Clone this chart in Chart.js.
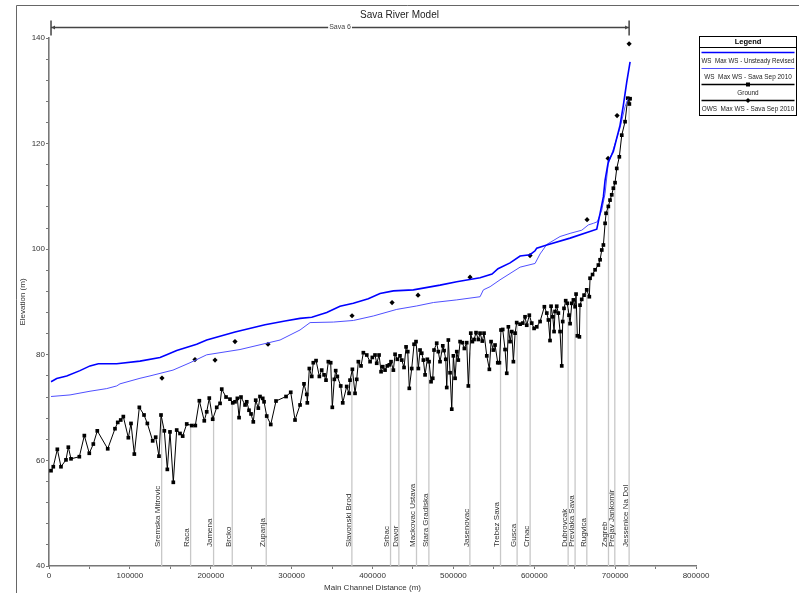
<!DOCTYPE html>
<html>
<head>
<meta charset="utf-8">
<title>Sava River Model</title>
<script src="https://cdn.jsdelivr.net/npm/chart.js@4.4.1/dist/chart.umd.min.js"></script>
<style>
  html, body { margin: 0; padding: 0; background: #fff; }
  #wrap { width: 799px; height: 593px; }
</style>
</head>
<body>
<div id="wrap"><canvas id="profile" width="799" height="593"></canvas></div>
<script>
// main channel distance (m) / elevation (m)
const wsRevDist = [2500, 9500, 21900, 38300, 50700, 61000, 83700, 112500, 137300, 145500,
  157900, 182600, 195000, 230000, 267100, 291800, 310400, 324900, 343400, 359800,
  376300, 394800, 409300, 425800, 450500, 483500, 504200, 518500, 533000, 547800,
  555200, 570100, 582500, 594800, 601000, 603100, 615500, 644300, 677300, 681400,
  685500, 687600, 691600, 697800, 706100, 710200, 714400, 718500];
const wsRevElev = [74.9, 75.5, 76.0, 77.0, 77.9, 78.3, 78.3, 78.8, 79.5, 80.0,
  80.8, 82.0, 82.8, 84.3, 85.7, 86.4, 86.9, 87.1, 88.0, 89.2,
  89.75, 90.6, 91.6, 92.1, 92.3, 93.2, 93.85, 94.2, 94.6, 95.3,
  96.3, 97.4, 98.7, 98.96, 99.7, 100.2, 100.8, 102.1, 103.8, 106.8,
  109.95, 113.1, 116.6, 118.5, 123.5, 127.3, 131.7, 135.5];

const wsSepDist = [2500, 26000, 50700, 71400, 83700, 87800, 112500, 124900, 153300, 174400,
  195000, 236200, 285700, 310400, 322800, 351600, 376300, 401000, 430000, 454700,
  475300, 504200, 533000, 537100, 545400, 557700, 582500, 601000, 607200, 615500,
  631900, 644300, 658800, 666900, 673100, 678000, 683500, 687600, 691300, 697500,
  706100, 712300, 716000];
const wsSepElev = [72.1, 72.4, 73.1, 73.6, 74.1, 74.5, 75.55, 76.0, 77.1, 78.5,
  80.0, 81.0, 82.8, 84.7, 86.1, 86.2, 86.5, 87.35, 88.6, 89.25,
  89.9, 90.4, 91.0, 92.3, 92.9, 94.2, 96.6, 97.3, 99.1, 100.9,
  102.4, 103.0, 103.6, 104.6, 104.9, 105.2, 107.4, 110.6, 116.0, 118.8,
  123.0, 127.0, 128.5];

const groundDist = [2500, 5300, 10300, 14800, 21000, 23900, 27200, 37500, 43700, 49800,
  54800, 59700, 72600, 81600, 85000, 88700, 91900, 98100, 101400, 105500,
  111700, 117500, 121600, 128200, 131900, 136000, 138500, 142600, 146300, 149600,
  153700, 157900, 162000, 165300, 170300, 176500, 180900, 185900, 192000, 195000,
  198200, 202400, 207400, 211500, 213600, 218900, 223800, 227200, 230000, 232900,
  235000, 237400, 242400, 244500, 247300, 249800, 252600, 255600, 258800, 260900,
  264300, 265900, 269200, 274200, 280700, 293100, 298900, 304200, 310400, 315300,
  318700, 319400, 321900, 324900, 326800, 330200, 334300, 337200, 340100, 342500,
  345400, 348300, 350300, 352800, 354500, 356500, 360700, 363200, 368100, 371000,
  372200, 375100, 378400, 380500, 382500, 385800, 388700, 392900, 397000, 399800,
  403100, 405200, 408100, 410600, 412700, 415500, 418300, 420800, 422900, 425800,
  427900, 430700, 434000, 436200, 439000, 441500, 443600, 445500, 448500, 451400,
  453800, 456700, 458800, 460900, 462900, 465000, 467800, 469900, 472400, 474500,
  476100, 479400, 481400, 483500, 486900, 488500, 490600, 491800, 493800, 495900,
  498000, 500000, 502100, 504200, 506100, 508300, 511100, 513600, 516500, 518500,
  521500, 523500, 525600, 528000, 530900, 533000, 535800, 537900, 541300, 544500,
  546600, 549400, 551500, 554900, 556900, 558900, 561000, 563900, 566000, 568000,
  570100, 572200, 574200, 576300, 578300, 582500, 585800, 588600, 590700, 593900,
  596900, 599800, 603100, 607200, 612500, 615500, 617500, 619500, 620800, 622900,
  624500, 625700, 627800, 629800, 631900, 634000, 635200, 636800, 638900, 640900,
  643000, 644300, 646400, 648400, 650500, 651700, 653300, 655800, 656600, 658700,
  661600, 664900, 668100, 669000, 672100, 675200, 679300, 681400, 683500, 685500,
  687600, 688800, 691600, 693700, 695800, 697800, 699900, 702000, 705200, 708200,
  712300, 715600, 717600, 718500];
const groundElev = [58.05, 58.8, 62.1, 58.8, 60.1, 62.5, 60.3, 60.7, 64.7, 61.35,
  63.1, 65.6, 62.2, 66.0, 67.2, 67.65, 68.3, 64.3, 67.0, 61.2,
  70.05, 68.6, 67.0, 63.7, 64.4, 60.8, 68.6, 65.6, 58.3, 65.4,
  55.85, 65.75, 65.1, 64.6, 66.9, 66.6, 66.6, 71.3, 67.5, 69.2,
  71.8, 67.8, 70.05, 70.8, 73.5, 72.0, 71.6, 70.9, 71.1, 71.75,
  68.1, 72.0, 70.5, 71.1, 69.5, 68.8, 67.3, 71.4, 69.9, 72.1,
  71.75, 71.1, 68.4, 66.8, 71.25, 72.1, 72.9, 67.65, 70.5, 74.5,
  72.5, 70.9, 77.4, 75.9, 78.5, 78.9, 75.9, 77.1, 76.2, 75.2,
  78.7, 78.5, 70.05, 75.35, 77.0, 75.9, 74.1, 70.9, 74.0, 72.7,
  75.2, 77.25, 72.7, 75.35, 78.7, 77.9, 80.4, 79.96, 78.7, 79.5,
  79.96, 78.4, 79.96, 76.8, 77.75, 77.1, 77.9, 78.1, 78.7, 77.1,
  80.1, 79.15, 79.8, 79.0, 77.6, 81.5, 80.6, 73.65, 77.4, 82.0,
  82.5, 77.4, 80.9, 80.3, 79.0, 76.2, 79.15, 78.7, 74.9, 75.55,
  80.9, 82.2, 80.6, 78.7, 81.7, 80.8, 79.15, 73.8, 82.8, 76.6,
  69.7, 79.8, 75.55, 80.6, 79.0, 82.5, 82.3, 81.2, 82.3, 74.1,
  84.1, 82.5, 82.9, 84.2, 82.9, 84.1, 82.6, 84.1, 79.8, 77.25,
  82.5, 80.9, 81.85, 78.5, 78.5, 84.7, 84.8, 81.0, 76.5, 85.3,
  82.5, 84.4, 78.7, 84.1, 86.1, 85.8, 86.0, 87.2, 85.6, 87.5,
  86.0, 85.0, 85.3, 86.3, 89.1, 87.9, 86.6, 82.7, 89.2, 87.2,
  84.4, 88.2, 89.2, 87.9, 84.4, 77.9, 86.3, 88.8, 90.25, 89.75,
  87.5, 85.9, 89.75, 90.4, 89.1, 91.5, 83.6, 83.4, 89.4, 90.5,
  91.3, 92.3, 91.0, 94.5, 95.2, 96.1, 97.0, 98.0, 99.85, 100.8,
  104.9, 106.8, 108.1, 109.3, 110.3, 111.55, 112.6, 115.3, 117.5, 121.6,
  124.15, 128.6, 127.5, 128.5];

const owsDist = [139700, 180500, 205300, 230000, 270800, 374700, 424200, 456300, 520600, 594800,
  665300, 691300, 702400, 717300];
const owsElev = [75.6, 79.1, 79.0, 82.5, 82.0, 87.4, 89.9, 91.3, 94.7, 98.8,
  105.6, 117.2, 125.3, 138.9];

const stationNames = ['Sremska Mitrovic', 'Raca', 'Jamena', 'Brcko', 'Zupanja', 'Slavonski Brod',
  'Srbac', 'Davor', 'Mackovac Ustava', 'Stara Gradiska', 'Jasenovac', 'Trebez Sava', 'Gusca',
  'Crnac', 'Dubrovcak', 'Prevlaka Sava', 'Rugvica', 'Zagreb', 'Prejav Jankomir', 'Jessenice Na Dol'];
const stationDist = [139300, 175100, 203500, 226600, 268600, 374500, 422300, 432600, 454400, 469700,
  520400, 558300, 578800, 594900, 641900, 650500, 665000, 691800, 699600, 717300];

const reachName = 'Sava 6';
const yTicks = [40, 60, 80, 100, 120, 140];
const xTicks = [0, 100000, 200000, 300000, 400000, 500000, 600000, 700000, 800000];

const FONT = "'Liberation Sans Narrow', 'Liberation Sans', Arial, sans-serif";
Chart.defaults.font.family = FONT;
Chart.defaults.color = '#333';

function pts(xs, ys) {
  return xs.map((x, i) => ({ x: x, y: ys[i] }));
}

// ground elevation at a station, interpolated between cross sections
function groundAt(d) {
  for (let i = 1; i < groundDist.length; i++) {
    if (d <= groundDist[i]) {
      const t = (d - groundDist[i - 1]) / (groundDist[i] - groundDist[i - 1]);
      return groundElev[i - 1] + t * (groundElev[i] - groundElev[i - 1]);
    }
  }
  return groundElev[groundElev.length - 1];
}

const profilePlugin = {
  id: 'profile',
  beforeDraw(chart) {
    const ctx = chart.ctx;
    ctx.save();
    ctx.fillStyle = '#fff';
    ctx.fillRect(0, 0, chart.width, chart.height);
    ctx.strokeStyle = '#666';
    ctx.lineWidth = 1;
    ctx.beginPath();
    ctx.moveTo(16.5, chart.height);
    ctx.lineTo(16.5, 5.5);
    ctx.lineTo(chart.width, 5.5);
    ctx.stroke();
    ctx.restore();
  },
  beforeDatasetsDraw(chart) {
    const ctx = chart.ctx;
    const xs = chart.scales.x, ys = chart.scales.y;
    const base = ys.getPixelForValue(ys.min);
    ctx.save();
    ctx.strokeStyle = '#c8c8c8';
    ctx.lineWidth = 1.3;
    stationNames.forEach((name, i) => {
      const px = xs.getPixelForValue(stationDist[i]);
      const top = ys.getPixelForValue(groundAt(stationDist[i]));
      ctx.beginPath();
      ctx.moveTo(px, base);
      ctx.lineTo(px, top);
      ctx.stroke();
    });
    ctx.fillStyle = '#333';
    ctx.font = '8px ' + FONT;
    ctx.textAlign = 'left';
    ctx.textBaseline = 'bottom';
    stationNames.forEach((name, i) => {
      const px = xs.getPixelForValue(stationDist[i]);
      ctx.save();
      ctx.translate(px + 0.5, base - 19);
      ctx.rotate(-Math.PI / 2);
      ctx.fillText(name, 0, 0);
      ctx.restore();
    });
    ctx.restore();
  },
  afterDraw(chart) {
    const ctx = chart.ctx;
    const xs = chart.scales.x;
    ctx.save();

    // reach bar
    const x0 = xs.getPixelForValue(groundDist[0]);
    const x1 = xs.getPixelForValue(stationDist[stationDist.length - 1]);
    const yb = 27.5;
    ctx.strokeStyle = '#444';
    ctx.fillStyle = '#444';
    ctx.lineWidth = 1.5;
    ctx.beginPath();
    ctx.moveTo(x0, yb); ctx.lineTo(x1, yb);
    ctx.moveTo(x0, yb - 7); ctx.lineTo(x0, yb + 8);
    ctx.moveTo(x1, yb - 7); ctx.lineTo(x1, yb + 8);
    ctx.stroke();
    ctx.beginPath();
    ctx.moveTo(x0 + 0.5, yb); ctx.lineTo(x0 + 4, yb - 2); ctx.lineTo(x0 + 4, yb + 2); ctx.closePath();
    ctx.moveTo(x1 - 0.5, yb); ctx.lineTo(x1 - 4, yb - 2); ctx.lineTo(x1 - 4, yb + 2); ctx.closePath();
    ctx.fill();
    ctx.font = '7px ' + FONT;
    const mid = (x0 + x1) / 2;
    const tw = ctx.measureText(reachName).width;
    ctx.fillStyle = '#fff';
    ctx.fillRect(mid - tw / 2 - 1, yb - 4, tw + 2, 8);
    ctx.fillStyle = '#444';
    ctx.textAlign = 'center';
    ctx.textBaseline = 'middle';
    ctx.fillText(reachName, mid, yb);

    // legend box
    const lx = 699.5, ly = 36.5, lw = 97, lh = 79;
    ctx.fillStyle = '#fff';
    ctx.fillRect(lx, ly, lw, lh);
    ctx.strokeStyle = '#000';
    ctx.lineWidth = 1;
    ctx.strokeRect(lx, ly, lw, lh);
    ctx.beginPath();
    ctx.moveTo(lx, 47.5); ctx.lineTo(lx + lw, 47.5);
    ctx.stroke();
    ctx.fillStyle = '#000';
    ctx.font = 'bold 7.5px ' + FONT;
    ctx.fillText('Legend', lx + lw / 2, 42, 30);
    ctx.font = '8px ' + FONT;
    chart.data.datasets.forEach((ds, i) => {
      const sy = 52.5 + 16 * i;
      ctx.strokeStyle = ds.borderColor;
      ctx.lineWidth = ds.legendLine;
      ctx.beginPath();
      ctx.moveTo(lx + 2, sy); ctx.lineTo(lx + lw - 2, sy);
      ctx.stroke();
      if (ds.pointRadius > 0) {
        ctx.fillStyle = '#000';
        const cx = lx + lw / 2;
        ctx.beginPath();
        if (ds.pointStyle === 'rect') {
          ctx.rect(cx - 2, sy - 2, 4, 4);
        } else {
          ctx.moveTo(cx, sy - 2.5); ctx.lineTo(cx + 2.5, sy); ctx.lineTo(cx, sy + 2.5); ctx.lineTo(cx - 2.5, sy);
          ctx.closePath();
        }
        ctx.fill();
      }
      ctx.fillStyle = '#222';
      const w = ctx.measureText(ds.label).width;
      ctx.fillText(ds.label, lx + lw / 2, sy + 8, Math.min(w * 0.8, lw - 4));
    });
    ctx.restore();
  }
};

new Chart(document.getElementById('profile'), {
  type: 'scatter',
  data: {
    datasets: [
      {
        label: 'WS  Max WS - Unsteady Revised',
        data: pts(wsRevDist, wsRevElev),
        showLine: true,
        borderColor: '#0000ff',
        borderWidth: 1.6,
        legendLine: 1.6,
        pointRadius: 0,
        tension: 0
      },
      {
        label: 'WS  Max WS - Sava Sep 2010',
        data: pts(wsSepDist, wsSepElev),
        showLine: true,
        borderColor: '#5050ff',
        borderWidth: 1,
        legendLine: 1,
        pointRadius: 0,
        tension: 0
      },
      {
        label: 'Ground',
        data: pts(groundDist, groundElev),
        showLine: true,
        borderColor: '#000',
        backgroundColor: '#000',
        borderWidth: 1,
        legendLine: 1.5,
        pointStyle: 'rect',
        pointRadius: 2.6,
        pointBorderWidth: 0,
        tension: 0
      },
      {
        label: 'OWS  Max WS - Sava Sep 2010',
        data: pts(owsDist, owsElev),
        showLine: false,
        borderColor: '#000',
        backgroundColor: '#000',
        legendLine: 1.5,
        pointStyle: 'rectRot',
        pointRadius: 2.6,
        pointBorderWidth: 0
      }
    ]
  },
  options: {
    responsive: false,
    animation: false,
    devicePixelRatio: 1,
    events: [],
    layout: { padding: 0 },
    plugins: {
      legend: { display: false },
      tooltip: { enabled: false },
      title: {
        display: true,
        text: 'Sava River Model',
        color: '#222',
        font: { size: 10, weight: 'normal' },
        padding: { top: 9, bottom: 17 }
      }
    },
    scales: {
      x: {
        type: 'linear',
        min: 0,
        max: 800000,
        afterFit(s) { s.height = 27; },
        title: {
          display: true,
          text: 'Main Channel Distance (m)',
          color: '#333',
          font: { size: 8 },
          padding: { top: 0, bottom: 0 }
        },
        ticks: {
          stepSize: 50000,
          autoSkip: false,
          maxRotation: 0,
          padding: 2,
          font: { size: 8 },
          color: '#333',
          callback: v => xTicks.includes(v) ? String(v) : ''
        },
        grid: { drawOnChartArea: false, drawTicks: true, tickLength: 3, color: '#777' },
        border: { color: '#777', width: 1.6 }
      },
      y: {
        type: 'linear',
        min: 40,
        max: 140,
        afterFit(s) { s.width = 49; },
        title: {
          display: true,
          text: 'Elevation (m)',
          color: '#333',
          font: { size: 8 },
          padding: { top: 18, bottom: 0 }
        },
        ticks: {
          stepSize: 4,
          autoSkip: false,
          padding: 1,
          font: { size: 8 },
          color: '#333',
          callback: v => yTicks.includes(v) ? String(v) : ''
        },
        grid: { drawOnChartArea: false, drawTicks: true, tickLength: 3, color: '#777' },
        border: { color: '#777', width: 1.6 }
      },
      pad: {
        type: 'linear',
        position: 'right',
        afterFit(s) { s.width = 103; },
        ticks: { display: false },
        grid: { display: false },
        border: { display: false }
      }
    }
  },
  plugins: [profilePlugin]
});
</script>
</body>
</html>
